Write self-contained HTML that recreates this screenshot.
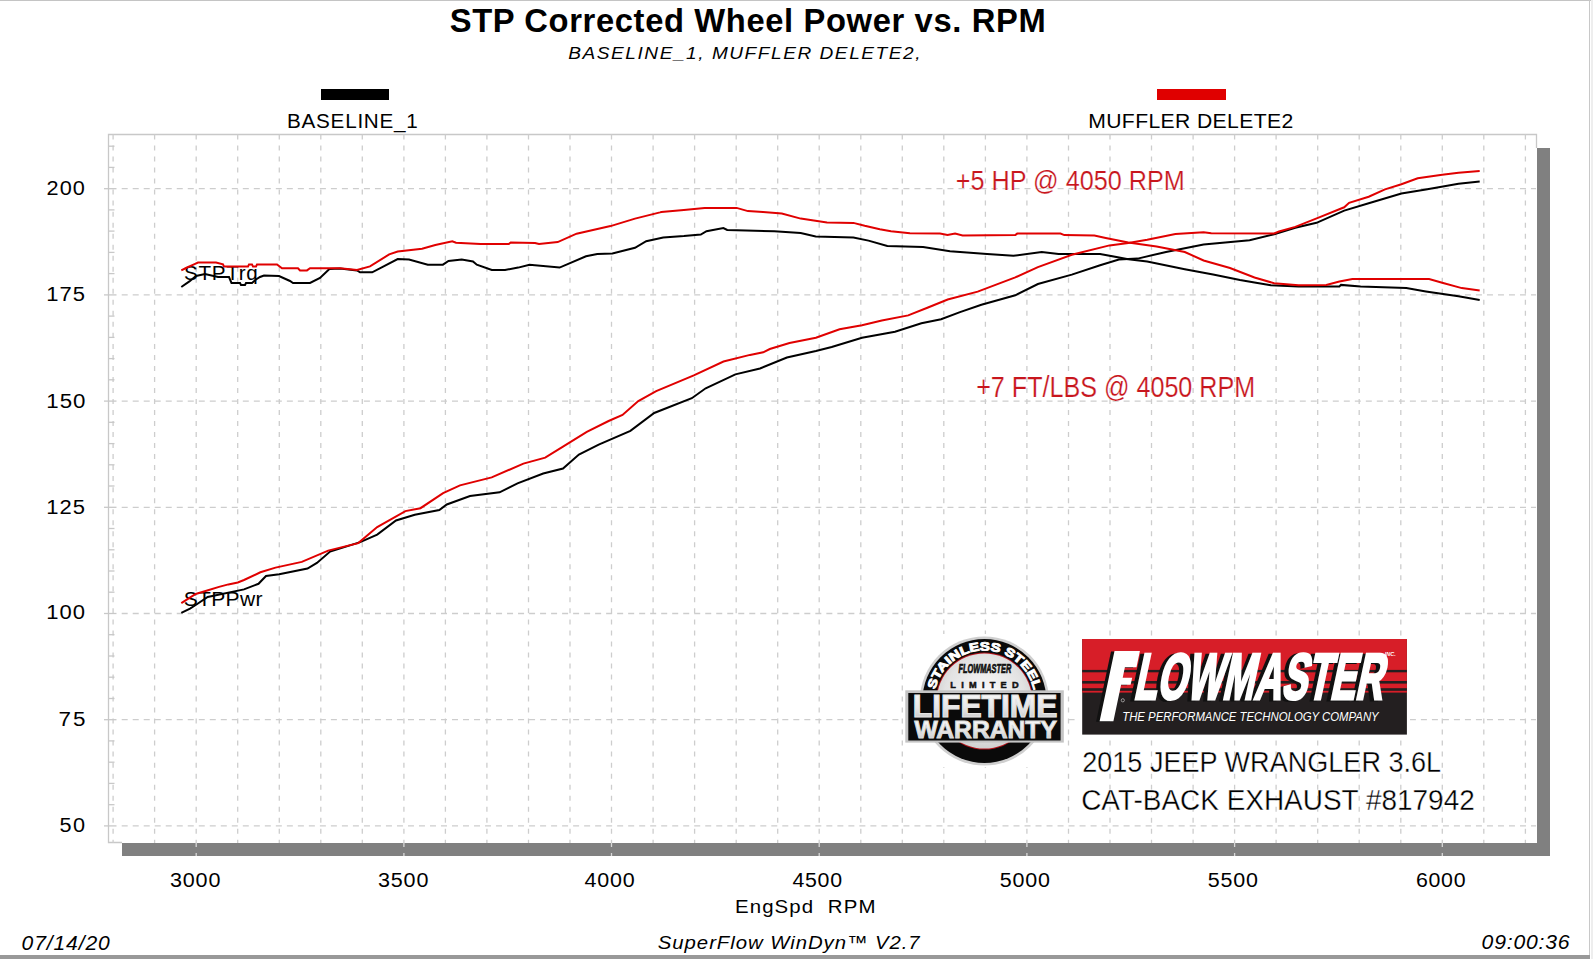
<!DOCTYPE html><html><head><meta charset="utf-8"><style>html,body{margin:0;padding:0;background:#fff;overflow:hidden}svg{display:block}text{font-family:"Liberation Sans",sans-serif;white-space:pre}</style></head><body>
<svg width="1593" height="959" viewBox="0 0 1593 959">
<rect width="1593" height="959" fill="#fff"/>
<rect x="0" y="0" width="1593" height="1" fill="#c4c4c4"/>
<rect x="1589" y="0" width="1" height="959" fill="#c8c8c8"/>
<rect x="1591" y="0" width="2" height="959" fill="#eeeeee"/>
<rect x="0" y="955" width="1590" height="4" fill="#999"/>
<rect x="108" y="134" width="1429" height="709" fill="#fff"/>
<path d="M122,842.5 H108.5 V134.5 H1536.5 V148" fill="none" stroke="#c8c8c8" stroke-width="1.3"/>
<g stroke="#cdcdcd" stroke-width="1.3" stroke-dasharray="5 6.02"><line x1="113.1" y1="134.5" x2="113.1" y2="843" /><line x1="154.6" y1="134.5" x2="154.6" y2="843" /><line x1="196.2" y1="134.5" x2="196.2" y2="843" /><line x1="237.7" y1="134.5" x2="237.7" y2="843" /><line x1="279.3" y1="134.5" x2="279.3" y2="843" /><line x1="320.8" y1="134.5" x2="320.8" y2="843" /><line x1="362.3" y1="134.5" x2="362.3" y2="843" /><line x1="403.9" y1="134.5" x2="403.9" y2="843" /><line x1="445.4" y1="134.5" x2="445.4" y2="843" /><line x1="486.9" y1="134.5" x2="486.9" y2="843" /><line x1="528.5" y1="134.5" x2="528.5" y2="843" /><line x1="570.0" y1="134.5" x2="570.0" y2="843" /><line x1="611.5" y1="134.5" x2="611.5" y2="843" /><line x1="653.1" y1="134.5" x2="653.1" y2="843" /><line x1="694.6" y1="134.5" x2="694.6" y2="843" /><line x1="736.2" y1="134.5" x2="736.2" y2="843" /><line x1="777.7" y1="134.5" x2="777.7" y2="843" /><line x1="819.2" y1="134.5" x2="819.2" y2="843" /><line x1="860.8" y1="134.5" x2="860.8" y2="843" /><line x1="902.3" y1="134.5" x2="902.3" y2="843" /><line x1="943.8" y1="134.5" x2="943.8" y2="843" /><line x1="985.4" y1="134.5" x2="985.4" y2="843" /><line x1="1026.9" y1="134.5" x2="1026.9" y2="843" /><line x1="1068.5" y1="134.5" x2="1068.5" y2="843" /><line x1="1110.0" y1="134.5" x2="1110.0" y2="843" /><line x1="1151.5" y1="134.5" x2="1151.5" y2="843" /><line x1="1193.1" y1="134.5" x2="1193.1" y2="843" /><line x1="1234.6" y1="134.5" x2="1234.6" y2="843" /><line x1="1276.1" y1="134.5" x2="1276.1" y2="843" /><line x1="1317.7" y1="134.5" x2="1317.7" y2="843" /><line x1="1359.2" y1="134.5" x2="1359.2" y2="843" /><line x1="1400.8" y1="134.5" x2="1400.8" y2="843" /><line x1="1442.3" y1="134.5" x2="1442.3" y2="843" /><line x1="1483.8" y1="134.5" x2="1483.8" y2="843" /><line x1="1525.4" y1="134.5" x2="1525.4" y2="843" /></g>
<g stroke="#cdcdcd" stroke-width="1.3" stroke-dasharray="6 5.01"><line x1="121.7" y1="825.9" x2="1536" y2="825.9" /><line x1="121.7" y1="719.7" x2="1536" y2="719.7" /><line x1="121.7" y1="613.5" x2="1536" y2="613.5" /><line x1="121.7" y1="507.3" x2="1536" y2="507.3" /><line x1="121.7" y1="401.1" x2="1536" y2="401.1" /><line x1="121.7" y1="294.9" x2="1536" y2="294.9" /><line x1="121.7" y1="188.7" x2="1536" y2="188.7" /></g>
<g stroke="#c8c8c8" stroke-width="1.3"><line x1="104" y1="825.9" x2="116.5" y2="825.9" /><line x1="104" y1="719.7" x2="116.5" y2="719.7" /><line x1="104" y1="613.5" x2="116.5" y2="613.5" /><line x1="104" y1="507.3" x2="116.5" y2="507.3" /><line x1="104" y1="401.1" x2="116.5" y2="401.1" /><line x1="104" y1="294.9" x2="116.5" y2="294.9" /><line x1="104" y1="188.7" x2="116.5" y2="188.7" /><line x1="108" y1="804.7" x2="114.5" y2="804.7" /><line x1="108" y1="783.4" x2="114.5" y2="783.4" /><line x1="108" y1="762.2" x2="114.5" y2="762.2" /><line x1="108" y1="740.9" x2="114.5" y2="740.9" /><line x1="108" y1="698.5" x2="114.5" y2="698.5" /><line x1="108" y1="677.2" x2="114.5" y2="677.2" /><line x1="108" y1="656.0" x2="114.5" y2="656.0" /><line x1="108" y1="634.7" x2="114.5" y2="634.7" /><line x1="108" y1="592.2" x2="114.5" y2="592.2" /><line x1="108" y1="571.0" x2="114.5" y2="571.0" /><line x1="108" y1="549.8" x2="114.5" y2="549.8" /><line x1="108" y1="528.5" x2="114.5" y2="528.5" /><line x1="108" y1="486.0" x2="114.5" y2="486.0" /><line x1="108" y1="464.8" x2="114.5" y2="464.8" /><line x1="108" y1="443.6" x2="114.5" y2="443.6" /><line x1="108" y1="422.3" x2="114.5" y2="422.3" /><line x1="108" y1="379.8" x2="114.5" y2="379.8" /><line x1="108" y1="358.6" x2="114.5" y2="358.6" /><line x1="108" y1="337.4" x2="114.5" y2="337.4" /><line x1="108" y1="316.1" x2="114.5" y2="316.1" /><line x1="108" y1="273.6" x2="114.5" y2="273.6" /><line x1="108" y1="252.4" x2="114.5" y2="252.4" /><line x1="108" y1="231.1" x2="114.5" y2="231.1" /><line x1="108" y1="209.9" x2="114.5" y2="209.9" /><line x1="108" y1="167.4" x2="114.5" y2="167.4" /><line x1="108" y1="146.2" x2="114.5" y2="146.2" /></g>
<rect x="122" y="843" width="1428" height="13" fill="#808080"/>
<rect x="1537" y="148" width="13" height="708" fill="#808080"/>
<g stroke="#d8d8d8" stroke-width="1.3"><line x1="196.2" y1="843" x2="196.2" y2="847" /><line x1="196.2" y1="853" x2="196.2" y2="856" /><line x1="403.9" y1="843" x2="403.9" y2="847" /><line x1="403.9" y1="853" x2="403.9" y2="856" /><line x1="611.5" y1="843" x2="611.5" y2="847" /><line x1="611.5" y1="853" x2="611.5" y2="856" /><line x1="819.2" y1="843" x2="819.2" y2="847" /><line x1="819.2" y1="853" x2="819.2" y2="856" /><line x1="1026.9" y1="843" x2="1026.9" y2="847" /><line x1="1026.9" y1="853" x2="1026.9" y2="856" /><line x1="1234.6" y1="843" x2="1234.6" y2="847" /><line x1="1234.6" y1="853" x2="1234.6" y2="856" /><line x1="1442.3" y1="843" x2="1442.3" y2="847" /><line x1="1442.3" y1="853" x2="1442.3" y2="856" /></g>
<text x="449.70" y="32.00" font-size="32.72" font-weight="bold" font-style="normal" fill="#000" textLength="595.98" lengthAdjust="spacing">STP Corrected Wheel Power vs. RPM</text>
<text transform="translate(568.30,59.00) scale(1.1336,1)" x="0" y="0" font-size="16.83" font-weight="normal" font-style="italic" fill="#000" textLength="310.64" lengthAdjust="spacing">BASELINE_1, MUFFLER DELETE2,</text>
<text transform="translate(287.00,127.50) scale(1.0537,1)" x="0" y="0" font-size="19.64" font-weight="normal" font-style="normal" fill="#000" textLength="124.16" lengthAdjust="spacing">BASELINE_1</text>
<text transform="translate(1088.20,128.00) scale(1.0264,1)" x="0" y="0" font-size="20.61" font-weight="normal" font-style="normal" fill="#000" textLength="199.82" lengthAdjust="spacing">MUFFLER DELETE2</text>
<text transform="translate(46.50,195.40) scale(1.0612,1)" x="0" y="0" font-size="20.43" font-weight="normal" font-style="normal" fill="#000" textLength="36.17" lengthAdjust="spacing">200</text>
<text transform="translate(46.30,300.60) scale(1.0545,1)" x="0" y="0" font-size="20.86" font-weight="normal" font-style="normal" fill="#000" textLength="36.71" lengthAdjust="spacing">175</text>
<text transform="translate(46.30,407.60) scale(1.0539,1)" x="0" y="0" font-size="21.14" font-weight="normal" font-style="normal" fill="#000" textLength="37.15" lengthAdjust="spacing">150</text>
<text transform="translate(46.30,513.90) scale(1.0545,1)" x="0" y="0" font-size="20.86" font-weight="normal" font-style="normal" fill="#000" textLength="36.71" lengthAdjust="spacing">125</text>
<text transform="translate(46.30,618.60) scale(1.0559,1)" x="0" y="0" font-size="20.86" font-weight="normal" font-style="normal" fill="#000" textLength="36.76" lengthAdjust="spacing">100</text>
<text transform="translate(58.60,725.60) scale(1.0748,1)" x="0" y="0" font-size="20.86" font-weight="normal" font-style="normal" fill="#000" textLength="24.94" lengthAdjust="spacing">75</text>
<text transform="translate(59.60,831.90) scale(1.0553,1)" x="0" y="0" font-size="20.57" font-weight="normal" font-style="normal" fill="#000" textLength="24.15" lengthAdjust="spacing">50</text>
<text transform="translate(735.00,912.70) scale(1.0866,1)" x="0" y="0" font-size="18.78" font-weight="normal" font-style="normal" fill="#000" textLength="129.22" lengthAdjust="spacing">EngSpd  RPM</text>
<text transform="translate(657.80,948.50) scale(1.0835,1)" x="0" y="0" font-size="18.78" font-weight="normal" font-style="italic" fill="#000" textLength="241.65" lengthAdjust="spacing">SuperFlow WinDyn™ V2.7</text>
<text transform="translate(21.60,949.70) scale(1.0738,1)" x="0" y="0" font-size="19.64" font-weight="normal" font-style="italic" fill="#000" textLength="82.05" lengthAdjust="spacing">07/14/20</text>
<text transform="translate(1481.60,949.20) scale(1.0697,1)" x="0" y="0" font-size="19.78" font-weight="normal" font-style="italic" fill="#000" textLength="82.31" lengthAdjust="spacing">09:00:36</text>
<text transform="translate(169.90,887.40) scale(1.0524,1)" x="0" y="0" font-size="20.49" font-weight="normal" font-style="normal" fill="#000" textLength="47.97" lengthAdjust="spacing">3000</text>
<text transform="translate(378.00,887.40) scale(1.0513,1)" x="0" y="0" font-size="20.49" font-weight="normal" font-style="normal" fill="#000" textLength="47.92" lengthAdjust="spacing">3500</text>
<text transform="translate(584.50,887.40) scale(1.0482,1)" x="0" y="0" font-size="20.49" font-weight="normal" font-style="normal" fill="#000" textLength="47.78" lengthAdjust="spacing">4000</text>
<text transform="translate(792.50,887.40) scale(1.0430,1)" x="0" y="0" font-size="20.49" font-weight="normal" font-style="normal" fill="#000" textLength="47.54" lengthAdjust="spacing">4500</text>
<text transform="translate(999.80,887.40) scale(1.0482,1)" x="0" y="0" font-size="20.49" font-weight="normal" font-style="normal" fill="#000" textLength="47.78" lengthAdjust="spacing">5000</text>
<text transform="translate(1207.80,887.40) scale(1.0482,1)" x="0" y="0" font-size="20.49" font-weight="normal" font-style="normal" fill="#000" textLength="47.78" lengthAdjust="spacing">5500</text>
<text transform="translate(1416.00,887.40) scale(1.0430,1)" x="0" y="0" font-size="20.49" font-weight="normal" font-style="normal" fill="#000" textLength="47.54" lengthAdjust="spacing">6000</text>
<rect x="321" y="89" width="68" height="11" fill="#000"/>
<rect x="1157" y="89" width="69" height="11" fill="#e00000"/>
<text transform="translate(184.00,280.10) scale(1.0480,1)" x="0" y="0" font-size="19.73" font-weight="normal" font-style="normal" fill="#000" textLength="70.42" lengthAdjust="spacing">STPTrq</text>
<text transform="translate(183.70,605.70) scale(1.0210,1)" x="0" y="0" font-size="20.61" font-weight="normal" font-style="normal" fill="#000" textLength="77.16" lengthAdjust="spacing">STPPwr</text>
<g fill="none" stroke-width="2" stroke-linejoin="miter">
<polyline points="181.3,287.0 189.4,281.4 196.0,276.0 205.0,274.0 218.0,277.0 229.0,277.0 231.5,283.0 240.0,283.0 241.0,285.0 245.0,285.0 246.0,283.0 252.0,283.0 256.0,279.5 260.0,277.0 264.0,275.5 279.0,276.0 290.0,281.0 293.0,283.0 310.0,283.0 320.0,278.0 329.4,269.0 340.0,268.5 357.0,270.5 360.0,272.3 372.2,272.3 397.7,259.1 409.0,259.5 427.8,264.7 442.9,264.7 448.5,261.0 461.7,259.5 473.0,261.4 476.8,264.7 491.8,270.0 505.0,270.0 518.2,267.6 529.5,264.7 559.6,267.6 586.0,256.3 597.3,254.0 612.4,253.4 635.0,247.8 646.2,241.2 663.2,237.4 683.9,236.1 700.8,234.6 706.5,231.2 723.4,228.0 727.2,229.9 746.0,230.5 774.3,231.2 800.7,233.1 815.7,236.5 853.4,237.4 868.5,240.6 887.3,245.9 923.1,246.9 950.0,251.2 987.1,253.9 1013.4,255.8 1041.7,252.0 1058.6,253.9 1100.1,253.9 1128.3,259.2 1147.2,261.4 1184.8,269.3 1213.1,274.6 1240.0,279.9 1254.5,282.4 1270.8,285.3 1298.5,286.5 1339.4,286.5 1341.0,284.9 1360.6,286.5 1406.3,288.1 1425.9,291.4 1458.5,296.3 1479.7,300.0" stroke="#000"/>
<polyline points="181.3,612.8 190.0,608.6 195.7,605.0 207.7,597.0 244.0,589.4 258.5,583.8 266.0,576.0 279.2,574.2 307.5,568.5 316.9,562.9 330.1,551.6 360.2,542.1 377.2,534.6 396.0,520.5 414.8,514.8 439.3,510.1 446.8,504.5 470.0,496.0 499.6,492.3 517.5,483.4 543.2,473.5 563.0,468.5 578.9,454.6 598.7,444.7 630.4,430.9 654.2,413.0 691.8,398.2 705.7,388.3 735.4,374.4 760.0,368.5 786.9,357.5 815.9,351.0 831.7,347.0 862.0,337.8 895.0,331.8 921.4,323.3 941.1,319.3 960.0,312.1 981.4,304.7 1015.3,295.3 1037.9,284.0 1071.8,274.6 1100.1,265.2 1118.9,259.5 1137.7,258.6 1166.0,252.0 1203.6,244.5 1249.6,240.3 1274.1,234.3 1295.3,227.7 1316.5,222.8 1344.2,210.6 1368.7,203.3 1401.4,193.5 1425.9,189.4 1458.5,183.7 1479.7,181.5" stroke="#000"/>
<polyline points="181.3,270.4 186.0,268.0 194.0,264.4 198.0,262.5 216.0,262.5 223.0,264.4 224.0,266.6 248.0,266.6 249.0,264.4 252.0,264.4 253.0,266.6 256.0,266.6 257.0,264.4 277.0,264.4 282.0,268.3 298.0,268.3 300.0,270.4 307.0,270.4 310.0,268.3 340.0,268.3 357.0,270.0 370.0,266.4 389.2,254.4 397.7,251.6 422.1,248.7 435.3,245.0 452.3,241.2 456.0,242.7 480.5,244.0 508.8,244.0 510.7,242.5 535.0,243.0 539.0,244.0 557.7,242.1 576.6,233.7 610.5,226.1 635.0,218.6 660.0,212.4 661.3,212.0 683.9,210.1 704.6,207.9 736.6,207.9 747.9,211.1 763.0,212.0 781.8,213.5 800.7,218.6 813.8,220.5 827.0,222.4 853.4,222.9 864.7,225.8 879.8,229.3 891.0,231.2 909.9,233.3 940.0,233.6 947.5,235.1 955.1,233.6 962.6,235.4 1015.3,235.1 1017.2,233.6 1060.5,233.6 1064.3,235.1 1094.4,235.4 1105.7,237.9 1128.3,242.6 1156.6,246.4 1184.8,252.0 1203.6,260.5 1230.0,268.0 1254.5,277.5 1274.1,283.2 1298.5,285.3 1326.3,284.9 1339.4,281.6 1352.4,279.1 1429.1,279.1 1442.2,282.7 1461.8,288.1 1479.7,290.6" stroke="#e00000"/>
<polyline points="181.3,603.2 195.7,594.0 206.4,590.7 219.0,586.9 228.4,584.4 237.8,582.5 244.0,580.0 260.4,572.3 275.5,567.6 301.8,561.9 328.2,550.6 358.3,543.1 377.2,527.1 405.4,511.1 420.5,508.2 443.1,493.2 460.0,485.4 491.7,477.4 523.4,463.6 545.2,457.6 563.0,446.7 586.8,431.9 608.6,421.0 622.5,415.0 638.3,401.1 656.2,391.2 693.8,375.4 723.5,361.5 750.0,354.9 763.2,352.3 769.8,349.0 789.5,343.0 815.9,337.8 839.6,329.2 862.0,325.3 881.8,320.6 908.2,315.4 928.0,307.5 947.7,299.5 977.7,291.6 1015.3,277.4 1037.9,267.1 1071.8,254.8 1109.5,245.4 1128.3,243.0 1147.2,239.8 1175.4,234.1 1203.6,232.2 1211.2,233.2 1274.1,233.4 1279.0,231.5 1295.3,226.9 1319.8,217.1 1344.2,207.3 1349.1,202.8 1368.7,196.7 1385.0,189.4 1401.4,184.2 1417.7,178.3 1442.2,174.7 1458.5,172.7 1479.7,170.9" stroke="#e00000"/>
</g>
<text x="955.80" y="189.50" font-size="27.20" font-weight="normal" font-style="normal" fill="#c8161d" textLength="228.98" lengthAdjust="spacingAndGlyphs" stroke="#fff" stroke-width="0.2">+5 HP @ 4050 RPM</text>
<text x="976.20" y="396.60" font-size="29.20" font-weight="normal" font-style="normal" fill="#c8161d" textLength="278.98" lengthAdjust="spacingAndGlyphs" stroke="#fff" stroke-width="0.2">+7 FT/LBS @ 4050 RPM</text>
<text x="1082.20" y="771.60" font-size="29.00" font-weight="normal" font-style="normal" fill="#000" textLength="358.90" lengthAdjust="spacingAndGlyphs" stroke="#fff" stroke-width="0.35">2015 JEEP WRANGLER 3.6L</text>
<text x="1081.20" y="809.90" font-size="29.00" font-weight="normal" font-style="normal" fill="#000" textLength="393.54" lengthAdjust="spacingAndGlyphs" stroke="#fff" stroke-width="0.35">CAT-BACK EXHAUST #817942</text>
<defs>
<radialGradient id="silv" cx="0.5" cy="0.45" r="0.6"><stop offset="0" stop-color="#fbfbfb"/><stop offset="0.7" stop-color="#e2e2e2"/><stop offset="1" stop-color="#c9c9c9"/></radialGradient>
<linearGradient id="ltxt" x1="0" y1="0" x2="0" y2="1"><stop offset="0" stop-color="#ffffff"/><stop offset="0.55" stop-color="#e6e6e6"/><stop offset="1" stop-color="#bdbdbd"/></linearGradient>
<linearGradient id="bandg" x1="0" y1="0" x2="0" y2="1"><stop offset="0" stop-color="#d0d0d0"/><stop offset="1" stop-color="#b8b8b8"/></linearGradient>
<path id="arc" d="M 935.19 689.64 A 50.5 50.5 0 0 1 1033.61 689.64"/>
</defs>
<rect x="903" y="634" width="163" height="133" fill="#fff"/>
<circle cx="984.4" cy="701.0" r="64.6" fill="#cfcfcf"/>
<circle cx="984.4" cy="701.0" r="62" fill="#0a0a0a"/>
<circle cx="984.4" cy="701.0" r="48.6" fill="#b5121b"/>
<circle cx="984.4" cy="701.0" r="47.6" fill="url(#silv)"/>
<text font-size="12" font-weight="bold" fill="#fff" stroke="#fff" stroke-width="0.9"><textPath href="#arc" textLength="136" lengthAdjust="spacingAndGlyphs">STAINLESS STEEL</textPath></text>
<text x="0" y="0" font-size="13" font-weight="bold" font-style="italic" fill="#111" stroke="#111" stroke-width="0.7" transform="translate(958.5,672.6) scale(0.62,1)" textLength="85" lengthAdjust="spacingAndGlyphs">FLOWMASTER</text>
<text x="950.3" y="688.4" font-size="9.2" font-weight="bold" fill="#111" stroke="#111" stroke-width="0.5" textLength="68.3" lengthAdjust="spacing">LIMITED</text>
<rect x="905.3" y="690.3" width="158.5" height="52.3" fill="#c4c4c4"/>
<rect x="908.3" y="693" width="152.3" height="47.5" fill="#0a0a0a"/>
<text x="0" y="0" font-size="32" font-weight="bold" fill="url(#ltxt)" stroke="#e4e4e4" stroke-width="1.2" transform="translate(912.8,717) scale(0.93,1)" textLength="155.5" lengthAdjust="spacingAndGlyphs">LIFETIME</text>
<text x="0" y="0" font-size="23.7" font-weight="bold" fill="url(#ltxt)" stroke="#dcdcdc" stroke-width="1" transform="translate(914.4,738.4) scale(0.93,1)" textLength="153.2" lengthAdjust="spacingAndGlyphs">WARRANTY</text>
<rect x="1079" y="636" width="331" height="101" fill="#fff"/>
<rect x="1082.2" y="639" width="324.7" height="95.6" fill="#231f20"/>
<rect x="1082.2" y="639" width="324.7" height="53.6" fill="#d71e28"/>
<rect x="1082.2" y="669.9" width="324.7" height="2.4" fill="#231f20"/>
<rect x="1082.2" y="681.0" width="324.7" height="2.6" fill="#231f20"/>
<rect x="1082.2" y="688.2" width="324.7" height="2.6" fill="#231f20"/>
<polygon points="1111.0,651.6 1136.4,651.6 1133.0,667.7 1121.4,667.7 1119.2,678.2 1128.7,678.2 1127.1,685.3 1117.6,685.3 1109.9,721.8 1096.1,721.8" fill="#111"/>
<polygon points="1114.5,651.1 1139.9,651.1 1136.5,667.2 1124.9,667.2 1122.7,677.7 1132.2,677.7 1130.6,684.8 1121.1,684.8 1113.4,721.3 1099.6,721.3" fill="#fff"/>
<g transform="translate(1133,699.3) skewX(-12) scale(0.5,0.97)"><text x="-8" y="1" font-size="67" font-weight="bold" fill="#111" stroke="#111" stroke-width="2.4" vector-effect="non-scaling-stroke" textLength="498" lengthAdjust="spacingAndGlyphs">LOWMASTER</text><text x="0" y="0" font-size="67" font-weight="bold" fill="#fff" stroke="#fff" stroke-width="2.4" vector-effect="non-scaling-stroke" textLength="498" lengthAdjust="spacingAndGlyphs">LOWMASTER</text></g>
<text x="1122.2" y="720.8" font-size="12.4" font-style="italic" fill="#fff" textLength="256.5" lengthAdjust="spacingAndGlyphs">THE PERFORMANCE TECHNOLOGY COMPANY</text>
<text x="1384.8" y="656.1" font-size="5.5" font-weight="bold" font-style="italic" fill="#fff">INC.</text>
<circle cx="1122.8" cy="700.3" r="1.6" fill="none" stroke="#fff" stroke-width="0.5"/>
</svg></body></html>
